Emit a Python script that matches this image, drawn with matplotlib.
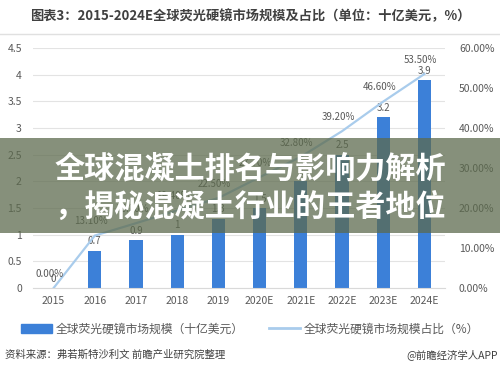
import matplotlib
matplotlib.use('Agg')
import matplotlib.pyplot as plt
from matplotlib.patches import Rectangle
from matplotlib.lines import Line2D

plt.rcParams['font.family'] = ['Noto Sans CJK SC', 'DejaVu Sans']

# data
years = ['2015', '2016', '2017', '2018', '2019', '2020E', '2021E', '2022E', '2023E', '2024E']
market_size = [0, 0.7, 0.9, 1.0, 1.3, 1.5, 2.0, 2.5, 3.2, 3.9]
share_pct = [0.0, 13.1, 16.2, 19.4, 22.5, 27.7, 32.8, 39.2, 46.6, 53.5]
left_ticks = [0, 0.5, 1, 1.5, 2, 2.5, 3, 3.5, 4, 4.5]
right_ticks = [0, 10, 20, 30, 40, 50, 60]

bar_color = '#3C80D8'
line_color = '#A9CCEC'
txt_color = '#595959'

fig = plt.figure(figsize=(5, 3.72), dpi=100)
ax = fig.add_axes([33 / 500, 84 / 372, 412 / 500, 240 / 372])
ax2 = ax.twinx()

x = range(len(years))
ax.bar(x, market_size, width=0.32, color=bar_color, zorder=2)
for i, v in enumerate(market_size):
    ax.text(i, v + 0.08, f'{v:g}', ha='center', va='bottom', fontsize=7, color=txt_color)

ax2.plot(x, share_pct, color=line_color, lw=1.6, zorder=3)
for i, p in enumerate(share_pct):
    ax2.text(i - 0.1, p + 2.3, f'{p:.2f}%', ha='center', va='bottom', fontsize=7, color=txt_color)

ax.set_xlim(-0.5, len(years) - 0.5)
ax.set_ylim(0, 4.5)
ax2.set_ylim(0, 60)
ax.set_yticks(left_ticks)
ax.set_yticklabels([f'{t:g}' for t in left_ticks])
ax2.set_yticks(right_ticks)
ax2.set_yticklabels([f'{t:.2f}%' for t in right_ticks])
ax.set_xticks(list(x))
ax.set_xticklabels(years)
ax.grid(axis='y', color='#E3E3E3', lw=0.8, zorder=0)
ax.set_axisbelow(True)
for a in (ax, ax2):
    for s in a.spines.values():
        s.set_visible(False)
    a.tick_params(length=0, labelsize=7.5, colors=txt_color)
ax.spines['bottom'].set_visible(True)
ax.spines['bottom'].set_color('#D9D9D9')
ax.tick_params(axis='y', pad=8)
ax2.tick_params(axis='y', pad=10)
ax.tick_params(axis='x', pad=6)

# title and rule under it
fig.text(0.5, 356 / 372, '图表3：2015-2024E全球荧光硬镜市场规模及占比（单位：十亿美元，%）',
         ha='center', va='center', fontsize=9.5, fontweight='bold', color='#404040')
fig.add_artist(Line2D([0.0, 1.0], [338 / 372, 338 / 372], color='#E0E0E0', lw=1))

# legend
handles = [Rectangle((0, 0), 1, 1, color=bar_color),
           Line2D([0], [0], color=line_color, lw=2)]
fig.legend(handles, ['全球荧光硬镜市场规模（十亿美元）', '全球荧光硬镜市场规模占比（%）'],
           loc='center', bbox_to_anchor=(0.5, 43 / 372), ncol=2, frameon=False,
           fontsize=8.5, labelcolor=txt_color, handlelength=2.6, handletextpad=0.3,
           columnspacing=2.2)

# source line
fig.text(0.01, 17 / 372, '资料来源：弗若斯特沙利文 前瞻产业研究院整理', ha='left', va='center',
         fontsize=7.5, color='#404040')
fig.text(0.995, 17 / 372, '@前瞻经济学人APP', ha='right', va='center', fontsize=7.5, color='#404040')

# overlay banner
fig.add_artist(Rectangle((0, 139 / 372), 1, 95 / 372, transform=fig.transFigure,
                         facecolor='#5C6A4D', alpha=0.74, zorder=10))
fig.text(0.5, 204 / 372, '全球混凝土排名与影响力解析', ha='center', va='center', fontsize=21.7,
         fontweight='bold', color='white', zorder=11)
fig.text(0.5, 165 / 372, '，揭秘混凝土行业的王者地位', ha='center', va='center', fontsize=21.7,
         fontweight='bold', color='white', zorder=11)

fig.savefig('out.png', dpi=100)
